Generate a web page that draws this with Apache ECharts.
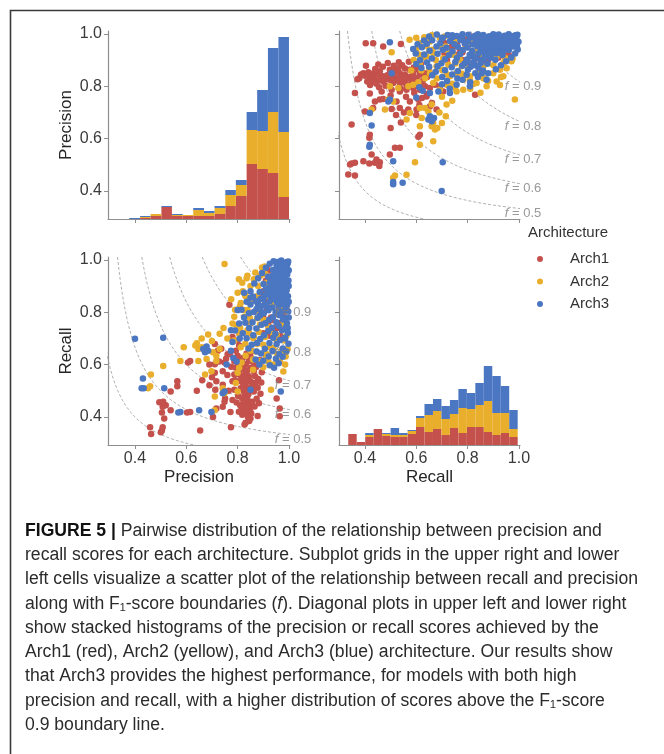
<!DOCTYPE html>
<html>
<head>
<meta charset="utf-8">
<title>Figure 5</title>
<script src="https://cdn.jsdelivr.net/npm/echarts@6/dist/echarts.min.js"></script>
<style>
  html, body { margin: 0; padding: 0; background: #fff; }
  #fig { width: 664px; height: 754px; }
</style>
</head>
<body>
<div id="fig"></div>
<script>
// ---- data ----
const archNames = ['Arch1', 'Arch2', 'Arch3'];
const tickValues = [0.4, 0.6, 0.8, 1.0];
const fLevels = [0.4, 0.5, 0.6, 0.7, 0.8, 0.9];
const fLabelLevels = [0.5, 0.6, 0.7, 0.8, 0.9];

// histogram bins (upper left: precision, lower right: recall)
const precisionEdges = [0.378, 0.420, 0.461, 0.503, 0.544, 0.586, 0.627, 0.669, 0.710, 0.752, 0.793, 0.835, 0.876, 0.918, 0.959, 1.000];
const precisionCountsArch1 = [0, 1, 3, 12, 3, 3, 3, 3, 5, 13, 23, 55, 50, 46, 22];
const precisionCountsArch2 = [0, 1, 2, 0, 1, 1, 6, 3, 6, 11, 11, 34, 38, 61, 65];
const precisionCountsArch3 = [1, 1, 0, 1, 1, 0, 2, 2, 2, 5, 5, 18, 41, 64, 95];

const recallEdges = [0.335, 0.368, 0.401, 0.434, 0.467, 0.500, 0.533, 0.566, 0.599, 0.632, 0.665, 0.698, 0.731, 0.764, 0.797, 0.830, 0.863, 0.896, 0.929, 0.962, 0.995];
const recallCountsArch1 = [11, 3, 8, 16, 9, 8, 8, 11, 18, 13, 16, 10, 17, 12, 18, 18, 13, 10, 12, 8];
const recallCountsArch2 = [0, 0, 2, 0, 2, 2, 2, 3, 9, 17, 18, 16, 14, 25, 18, 22, 31, 22, 20, 8];
const recallCountsArch3 = [0, 0, 2, 0, 1, 7, 2, 1, 2, 11, 12, 13, 14, 19, 16, 22, 35, 37, 27, 19];

// scatter points as [precision, recall]
const arch1Points = [
  [0.95,0.80],[0.93,0.85],[0.96,0.90],[0.92,0.75],[0.90,0.72],[0.94,0.74],[0.97,0.82],[0.98,0.88],[0.91,0.92],[0.89,0.80],
  [0.95,0.86],[0.93,0.78],[0.97,0.76],[0.99,0.90],[0.96,0.79],[0.90,0.88],[0.92,0.96],[0.94,0.94],[0.98,0.80],[0.91,0.84],
  [0.90,0.78],[0.915,0.81],[0.925,0.71],[0.935,0.77],[0.945,0.84],[0.955,0.74],[0.965,0.71],[0.975,0.79],[0.985,0.85],
  [0.99,0.81],[0.98,0.93],[0.96,0.95],[0.945,0.90],[0.93,0.91],[0.915,0.87],[0.905,0.83],[0.885,0.86],
  [0.964,0.403],[0.964,0.432],[0.952,0.471],[0.961,0.540],
  [0.883,0.452],[0.889,0.489],[0.880,0.545],[0.894,0.571],[0.886,0.618],[0.878,0.404],[0.892,0.532],
  [0.831,0.378],[0.827,0.371],[0.850,0.394],[0.853,0.413],[0.848,0.426],[0.853,0.443],[0.844,0.456],[0.838,0.469],
  [0.835,0.419],[0.827,0.432],[0.822,0.452],[0.818,0.471],[0.827,0.484],[0.815,0.426],[0.810,0.445],[0.818,0.409],[0.857,0.458],
  [0.863,0.497],[0.857,0.517],[0.850,0.536],[0.844,0.556],[0.831,0.543],[0.831,0.569],[0.850,0.588],[0.831,0.523],
  [0.812,0.510],[0.812,0.536],[0.806,0.562],[0.818,0.582],[0.831,0.601],[0.844,0.614],[0.850,0.631],[0.863,0.608],
  [0.863,0.575],[0.869,0.530],
  [0.845,0.385],[0.840,0.400],[0.836,0.437],[0.842,0.487],[0.825,0.497],[0.834,0.506],[0.848,0.512],[0.859,0.528],
  [0.822,0.527],[0.815,0.548],[0.826,0.557],[0.837,0.578],[0.823,0.592],[0.812,0.598],[0.806,0.621],[0.820,0.625],
  [0.835,0.642],[0.855,0.651],[0.868,0.556],[0.872,0.591],[0.878,0.512],[0.874,0.470],[0.866,0.440],[0.802,0.480],
  [0.796,0.455],[0.805,0.420],[0.790,0.540],[0.797,0.610],[0.775,0.592],[0.770,0.641],[0.760,0.560],[0.765,0.500],
  [0.755,0.622],[0.736,0.661],[0.728,0.612],[0.700,0.552],[0.690,0.521],[0.662,0.540],[0.690,0.600],[0.641,0.500],
  [0.774,0.361],[0.772,0.419],[0.780,0.465],[0.787,0.504],[0.780,0.536],[0.787,0.562],[0.793,0.588],[0.787,0.614],
  [0.800,0.634],[0.793,0.653],[0.806,0.673],[0.800,0.692],[0.780,0.705],
  [0.742,0.439],[0.749,0.458],[0.751,0.471],[0.742,0.523],[0.742,0.575],[0.749,0.608],[0.761,0.640],
  [0.704,0.400],[0.717,0.432],[0.713,0.504],[0.717,0.536],[0.711,0.569],[0.711,0.601],[0.723,0.653],[0.711,0.679],
  [0.654,0.348],[0.615,0.614],[0.607,0.608],[0.603,0.417],[0.615,0.419],
  [0.539,0.426],[0.520,0.445],[0.510,0.458],[0.539,0.497],[0.565,0.517],[0.565,0.536],
  [0.501,0.342],[0.505,0.348],[0.508,0.361],[0.514,0.394],[0.505,0.417],[0.508,0.439],[0.495,0.456],
  [0.463,0.335],[0.459,0.361],
  [0.768,0.829],[0.977,0.965],[0.962,0.971],[0.926,0.936],[0.939,0.900],[0.990,0.984]
];

const arch2Points = [
  [0.987,0.631],[0.930,0.504],[0.926,0.599],[0.920,0.612],[0.937,0.651],[0.749,0.984],
  [0.711,0.426],[0.711,0.478],[0.742,0.510],[0.749,0.491],[0.800,0.497],[0.793,0.530],[0.800,0.569],[0.806,0.588],[0.815,0.608],
  [0.717,0.614],[0.717,0.634],[0.704,0.647],[0.679,0.621],[0.647,0.614],[0.647,0.660],[0.635,0.673],[0.641,0.682],
  [0.673,0.653],[0.660,0.666],[0.730,0.718],[0.673,0.562],[0.698,0.575],[0.577,0.614],[0.590,0.666],[0.510,0.595],
  [0.459,0.517],[0.462,0.562],[0.451,0.510],
  [0.876,0.679],[0.863,0.705],[0.838,0.731],[0.850,0.757],[0.825,0.783],[0.838,0.809],[0.812,0.835],[0.831,0.861],
  [0.800,0.874],[0.818,0.913],[0.863,0.926],[0.876,0.861],[0.888,0.822],[0.901,0.770],[0.920,0.744],[0.939,0.718],
  [0.952,0.692],[0.926,0.666],[0.914,0.640],[0.888,0.614],[0.850,0.653],[0.812,0.666],[0.787,0.692],[0.806,0.718],
  [0.831,0.634],[0.914,0.913],[0.939,0.939],[0.926,0.874],[0.933,0.835],[0.952,0.796],[0.984,0.848],[0.971,0.809],
  [0.977,0.887],[0.895,0.971],[0.869,0.952],[0.850,0.900],[0.780,0.757],[0.787,0.783],[0.838,0.939],[0.882,0.725],
  [0.907,0.705],[0.876,0.777],[0.869,0.803],[0.977,0.751],[0.984,0.692],[0.971,0.653],
  [0.829,0.867],[0.874,0.841],[0.848,0.778],[0.887,0.752],[0.926,0.740],[0.952,0.714],[0.978,0.752],[0.991,0.778],
  [0.809,0.822],[0.861,0.701],[0.900,0.676],[0.939,0.663],[0.835,0.930],[0.908,0.946],[0.855,0.848],[0.824,0.809],
  [0.794,0.751],[0.805,0.926],[0.820,0.880],[0.845,0.720],[0.860,0.620],[0.900,0.590],[0.965,0.612],[0.978,0.574],
  [0.955,0.640],[0.940,0.600],[0.910,0.630],[0.870,0.650],[0.830,0.680],[0.810,0.740],[0.790,0.810],[0.775,0.850],
  [0.760,0.700],[0.745,0.740],[0.880,0.900],[0.890,0.940],[0.905,0.975],[0.920,0.860],[0.945,0.875],[0.960,0.830],
  [0.965,0.930],[0.990,0.710],[0.995,0.660],[0.985,0.600],[0.860,0.580],[0.730,0.660],[0.700,0.690],[0.685,0.715],[0.660,0.700]
];

const arch3Points = [
  [0.968,0.497],[0.850,0.504],[0.742,0.491],[0.749,0.497],[0.698,0.419],[0.650,0.426],[0.577,0.419],[0.569,0.417],
  [0.514,0.510],[0.510,0.703],[0.434,0.510],[0.426,0.510],[0.431,0.547],[0.400,0.699],
  [0.685,0.653],[0.679,0.669],[0.673,0.647],[0.666,0.660],[0.774,0.653],[0.780,0.686],[0.774,0.731],[0.806,0.757],
  [0.800,0.809],[0.825,0.874],[0.850,0.855],[0.844,0.796],
  [0.757,0.600],[0.783,0.625],[0.796,0.612],[0.835,0.701],[0.855,0.676],[0.874,0.650],[0.870,0.620],[0.885,0.600],
  [0.900,0.615],[0.925,0.598],[0.942,0.588],[0.960,0.605],[0.820,0.720],[0.808,0.700],[0.790,0.730],[0.842,0.662],
  [0.830,0.760],[0.845,0.740],[0.850,0.830],[0.860,0.860],[0.835,0.840],[0.825,0.780],[0.815,0.810],[0.850,0.880],
  [0.865,0.910],[0.880,0.930],[0.895,0.950],[0.910,0.970],[0.925,0.985],[0.940,0.995],[0.955,0.992],[0.970,0.998],
  [0.985,0.700],[0.998,0.680],[0.990,0.650],[0.975,0.630],[0.995,0.740],[0.999,0.780],[0.999,0.840],[0.999,0.900],
  [0.999,0.960],[0.980,0.955],[0.970,0.935],[0.955,0.915],[0.942,0.885],[0.930,0.860],[0.915,0.820],[0.895,0.800],
  [0.880,0.830],[0.900,0.850],
  [0.996,0.722],[0.992,0.758],[0.997,0.803],[0.993,0.829],[0.996,0.861],[0.991,0.884],[0.995,0.902],[0.998,0.921],
  [0.993,0.944],[0.996,0.958],[0.991,0.972],[0.995,0.986],[0.997,0.994],
  [0.984,0.703],[0.987,0.741],[0.982,0.779],[0.986,0.812],[0.983,0.846],[0.988,0.868],[0.981,0.893],[0.986,0.911],
  [0.984,0.932],[0.987,0.949],[0.982,0.967],[0.985,0.978],[0.989,0.991],
  [0.976,0.662],[0.973,0.731],[0.977,0.772],[0.971,0.801],[0.976,0.832],[0.972,0.858],[0.978,0.879],[0.974,0.902],
  [0.970,0.921],[0.975,0.941],[0.972,0.958],[0.977,0.974],[0.973,0.988],
  [0.962,0.641],[0.965,0.694],[0.960,0.748],[0.964,0.789],[0.959,0.821],[0.963,0.852],[0.961,0.871],[0.966,0.889],
  [0.958,0.912],[0.963,0.934],[0.960,0.953],[0.965,0.969],[0.962,0.984],
  [0.949,0.622],[0.952,0.679],[0.947,0.718],[0.951,0.762],[0.948,0.799],[0.953,0.838],[0.946,0.866],[0.950,0.883],
  [0.954,0.904],[0.947,0.927],[0.951,0.946],[0.948,0.963],[0.952,0.979],
  [0.936,0.652],[0.939,0.703],[0.934,0.741],[0.938,0.781],[0.935,0.818],[0.940,0.852],[0.933,0.874],[0.937,0.898],
  [0.941,0.919],[0.935,0.938],[0.938,0.961],
  [0.921,0.631],[0.924,0.683],[0.919,0.728],[0.923,0.771],[0.920,0.808],[0.925,0.842],[0.918,0.869],[0.922,0.893],
  [0.926,0.914],[0.919,0.936],
  [0.906,0.661],[0.903,0.712],[0.908,0.758],[0.902,0.797],[0.907,0.829],[0.904,0.862],[0.909,0.887],[0.901,0.908],
  [0.891,0.642],[0.888,0.698],[0.893,0.752],[0.887,0.788],[0.892,0.823],[0.889,0.851],[0.886,0.877],
  [0.876,0.683],[0.873,0.738],[0.878,0.779],[0.874,0.812],[0.871,0.842],
  [0.861,0.712],[0.858,0.762],[0.863,0.801]
];

const captionLines = [
  '{b|FIGURE 5 |} Pairwise distribution of the relationship between precision and',
  'recall scores for each architecture. Subplot grids in the upper right and lower',
  'left cells visualize a scatter plot of the relationship between recall and precision',
  'along with F\u2081-score boundaries ({i|f}). Diagonal plots in upper left and lower right',
  'show stacked histograms of the precision or recall scores achieved by the',
  'Arch1 (red), Arch2 (yellow), and Arch3 (blue) architecture. Our results show',
  'that Arch3 provides the highest performance, for models with both high',
  'precision and recall, with a higher distribution of scores above the F\u2081-score',
  '0.9 boundary line.'
];

// ---- styling ----
const colors = ['#c4514c', '#e8ae2c', '#4b76c1'];
const axisGray = '#8f8f8f';
const font = '"Liberation Sans", Arial, sans-serif';

// axis ranges as seen in the figure
const precRangeX = [0.295, 1.004];
const recRangeX = [0.299, 1.004];
const rangeY = [0.293, 1.011];
const countMax = 188;

function valueAxis(gridIndex, range, withLabels, name, nameGap) {
  return {
    type: 'value', gridIndex: gridIndex, min: range[0], max: range[1],
    name: name || '', nameLocation: 'middle', nameGap: nameGap || 0,
    nameTextStyle: {fontSize: 17, color: '#262626', fontFamily: font},
    axisLine: {show: true, onZero: false, lineStyle: {color: axisGray, width: 1.2}},
    axisTick: {show: true, length: 4, customValues: tickValues, lineStyle: {color: axisGray, width: 1}},
    axisLabel: {show: withLabels, customValues: tickValues, margin: 6, color: '#3a3a3a', fontSize: 16,
      fontFamily: font, formatter: v => v.toFixed(1)},
    splitLine: {show: false}
  };
}
function countAxis(gridIndex) {
  return {type: 'value', gridIndex: gridIndex, min: 0, max: countMax, show: false};
}

function stackBins(edges, countLists) {
  const out = countLists.map(() => []);
  for (let i = 0; i < edges.length - 1; i++) {
    let base = 0;
    countLists.forEach((counts, k) => {
      out[k].push([edges[i], edges[i + 1], base, base + counts[i]]);
      base += counts[i];
    });
  }
  return out;
}

function renderBin(params, api) {
  if (api.value(3) <= api.value(2)) return null;
  const lo = api.coord([api.value(0), api.value(2)]);
  const hi = api.coord([api.value(1), api.value(3)]);
  return {
    type: 'rect',
    shape: {x: lo[0], y: hi[1], width: hi[0] - lo[0], height: lo[1] - hi[1]},
    style: {fill: api.visual('color')}
  };
}

// iso-F1 boundaries: y = f*x / (2x - f)
function fCurve(f, xRange, yRange) {
  const x0 = f * yRange[1] / (2 * yRange[1] - f);
  const pts = [];
  const n = 90;
  for (let i = 0; i <= n; i++) {
    const t = i / n;
    const x = x0 + (xRange[1] - x0) * t * t;
    pts.push([x, f * x / (2 * x - f)]);
  }
  return pts;
}

const series = [];
const precStack = stackBins(precisionEdges, [precisionCountsArch1, precisionCountsArch2, precisionCountsArch3]);
const recStack = stackBins(recallEdges, [recallCountsArch1, recallCountsArch2, recallCountsArch3]);
archNames.forEach((name, k) => {
  series.push({type: 'custom', name: name + ' precision', xAxisIndex: 0, yAxisIndex: 1,
    renderItem: renderBin, data: precStack[k], itemStyle: {color: colors[k]}, silent: true});
  series.push({type: 'custom', name: name + ' recall', xAxisIndex: 3, yAxisIndex: 5,
    renderItem: renderBin, data: recStack[k], itemStyle: {color: colors[k]}, silent: true});
});

// [xAxisIndex, yAxisIndex, xRange, swap] : upper right is recall vs precision, lower left precision vs recall
const scatterPanels = [[1, 2, recRangeX, true], [2, 3, precRangeX, false]];
scatterPanels.forEach(([xi, yi, xr, swap]) => {
  fLevels.forEach(f => {
    series.push({type: 'line', xAxisIndex: xi, yAxisIndex: yi, data: fCurve(f, xr, rangeY),
      showSymbol: false, symbol: 'none', clip: true, silent: true, z: 1,
      lineStyle: {color: '#9a9a9a', width: 0.8, type: [3, 2]}});
  });
  [arch1Points, arch2Points, arch3Points].forEach((pts, k) => {
    series.push({type: 'scatter', name: archNames[k], xAxisIndex: xi, yAxisIndex: yi,
      data: pts.map(p => swap ? [p[1], p[0]] : [p[0], p[1]]),
      symbol: 'circle', symbolSize: 6.5, itemStyle: {color: colors[k], opacity: 1}, z: 2});
  });
  series.push({type: 'scatter', xAxisIndex: xi, yAxisIndex: yi, symbolSize: 0, silent: true, z: 5,
    data: fLabelLevels.map(f => [0.945, f / (2 - f), f]),
    label: {show: true, position: 'right', distance: 0, offset: [0, 5], color: '#808080', fontSize: 13,
      fontFamily: font, formatter: p => '{i|f} = ' + p.value[2].toFixed(1),
      rich: {i: {fontStyle: 'italic', fontSize: 13, color: '#808080', fontFamily: font}}}});
});

// caption width fitting (the original typeface is condensed)
const measureCtx = document.createElement('canvas').getContext('2d');
measureCtx.font = '18px "Liberation Sans"';
const captionScale = 613 / measureCtx.measureText(captionLines[2]).width;

const graphics = [
  {type: 'polyline', shape: {points: [[10.5, 754], [10.5, 10.5], [664, 10.5]]},
    style: {stroke: '#3a3a3a', lineWidth: 1.6, fill: null}, silent: true},
  {type: 'text', x: 528, y: 233, style: {text: 'Architecture', fontSize: 15, fontFamily: font,
    fill: '#333', verticalAlign: 'middle'}}
];
captionLines.forEach((line, i) => {
  graphics.push({type: 'text', x: 25, y: 531 + i * 24.25, scaleX: captionScale,
    style: {text: line, fontSize: 18, fontFamily: font, fill: '#2b2b2b', verticalAlign: 'middle',
      rich: {b: {fontWeight: 'bold', fontSize: 18, fontFamily: font, fill: '#111'},
             i: {fontStyle: 'italic', fontSize: 18, fontFamily: font, fill: '#2b2b2b'}}}});
});

const chart = echarts.init(document.getElementById('fig'), null, {renderer: 'canvas'});
chart.setOption({
  animation: false,
  backgroundColor: '#fff',
  grid: [
    {left: 108, top: 31, width: 182, height: 188},
    {left: 339, top: 31, width: 181, height: 188},
    {left: 108, top: 257, width: 182, height: 188},
    {left: 339, top: 257, width: 181, height: 188}
  ],
  xAxis: [
    valueAxis(0, precRangeX, false),
    valueAxis(1, recRangeX, false),
    valueAxis(2, precRangeX, true, 'Precision', 24),
    valueAxis(3, recRangeX, true, 'Recall', 24)
  ],
  yAxis: [
    valueAxis(0, rangeY, true, 'Precision', 33),
    countAxis(0),
    valueAxis(1, rangeY, false),
    valueAxis(2, rangeY, true, 'Recall', 33),
    valueAxis(3, rangeY, false),
    countAxis(3)
  ],
  legend: {
    data: archNames, orient: 'vertical', left: 532, top: 246, icon: 'circle',
    itemWidth: 50, itemHeight: 6, itemGap: 6.5, selectedMode: false,
    textStyle: {fontSize: 15, color: '#333', fontFamily: font, lineHeight: 16}
  },
  graphic: graphics,
  series: series
});
</script>
</body>
</html>
